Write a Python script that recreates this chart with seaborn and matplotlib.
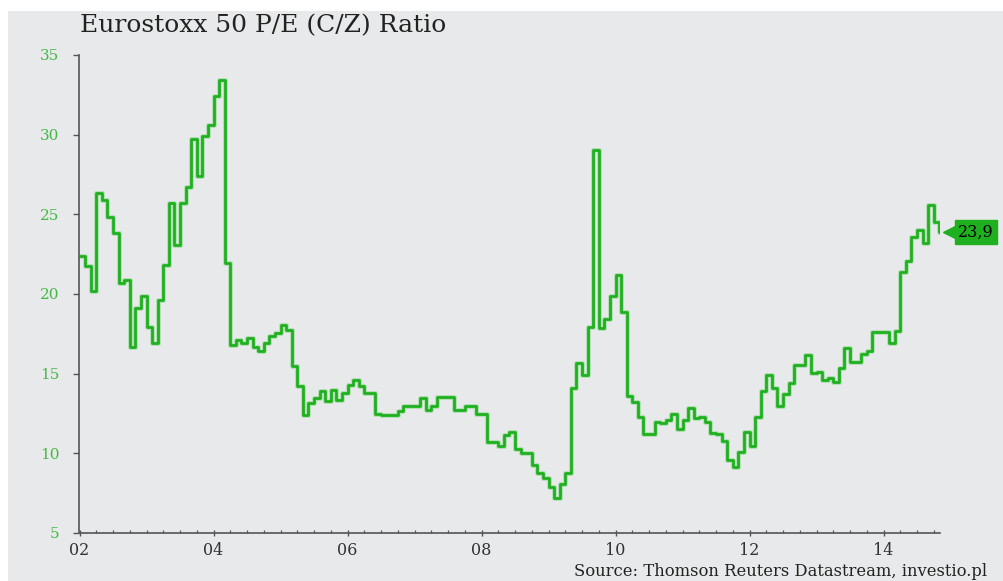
import numpy as np
import pandas as pd
import matplotlib
matplotlib.use("Agg")
import matplotlib.pyplot as plt
import matplotlib.patheffects as pe
import matplotlib.transforms as mtransforms
from matplotlib.ticker import MultipleLocator, FuncFormatter
import seaborn as sns

# ---- data: monthly Eurostoxx 50 P/E ratio ----
start_year = 2002
pe_2002 = [22.4, 21.75, 20.2, 26.35, 25.9, 24.85, 23.8, 20.7, 20.9, 16.7, 19.1, 19.9]
pe_2003 = [17.95, 16.9, 19.6, 21.8, 25.7, 23.1, 25.7, 26.7, 29.7, 27.4, 29.9, 30.6]
pe_2004 = [32.4, 33.4, 21.95, 16.8, 17.1, 16.9, 17.25, 16.7, 16.45, 16.9, 17.35, 17.55]
pe_2005 = [18.05, 17.75, 15.5, 14.2, 12.4, 13.15, 13.45, 13.9, 13.3, 13.95, 13.35, 13.8]
pe_2006 = [14.3, 14.6, 14.2, 13.8, 13.8, 12.5, 12.4, 12.4, 12.4, 12.65, 12.95, 12.95]
pe_2007 = [12.95, 13.45, 12.7, 13.0, 13.55, 13.55, 13.55, 12.7, 12.7, 13.0, 13.0, 12.5]
pe_2008 = [12.5, 10.7, 10.7, 10.45, 11.15, 11.35, 10.25, 10.0, 10.0, 9.25, 8.75, 8.45]
pe_2009 = [7.9, 7.2, 8.1, 8.75, 14.1, 15.7, 14.9, 17.9, 29.05, 17.85, 18.4, 19.9]
pe_2010 = [21.2, 18.85, 13.6, 13.2, 12.3, 11.2, 11.2, 11.95, 11.9, 12.1, 12.45, 11.5]
pe_2011 = [12.1, 12.85, 12.2, 12.3, 11.95, 11.25, 11.2, 10.8, 9.6, 9.15, 10.1, 11.35]
pe_2012 = [10.45, 12.3, 13.9, 14.9, 14.1, 12.95, 13.7, 14.4, 15.55, 15.55, 16.2, 15.05]
pe_2013 = [15.1, 14.6, 14.75, 14.45, 15.35, 16.6, 15.75, 15.75, 16.25, 16.45, 17.6, 17.6]
pe_2014 = [17.6, 16.95, 17.65, 21.4, 22.1, 23.55, 24.0, 23.2, 25.6, 24.5, 23.9]

y_ticks = [5, 10, 15, 20, 25, 30, 35]
x_major_years = [2002, 2004, 2006, 2008, 2010, 2012, 2014]
title = "Eurostoxx 50 P/E (C/Z) Ratio"
source = "Source: Thomson Reuters Datastream, investio.pl"

values = (pe_2002 + pe_2003 + pe_2004 + pe_2005 + pe_2006 + pe_2007 + pe_2008 +
          pe_2009 + pe_2010 + pe_2011 + pe_2012 + pe_2013 + pe_2014)
df = pd.DataFrame({"t": start_year + np.arange(len(values)) / 12.0, "pe": values})

# ---- style ----
BG = "#e8e9ea"
GREEN = "#1fb01f"
TICKGREEN = "#44b944"
AXIS = "#555555"

sns.set_theme(style="ticks")
plt.rcParams["font.family"] = ["DejaVu Serif"]

W, H, DPI = 1004, 581, 100
fig = plt.figure(figsize=(W / DPI, H / DPI), dpi=DPI, facecolor="white")
fig.patches.append(plt.Rectangle((8 / W, 0), 1 - 8 / W, 1 - 11 / H,
                                 transform=fig.transFigure, facecolor=BG,
                                 edgecolor="none", zorder=-10))

left, right = 79.5 / W, 940 / W
bottom, top = (H - 533) / H, (H - 55) / H
ax = fig.add_axes([left, bottom, right - left, top - bottom])
ax.set_facecolor(BG)

sns.lineplot(data=df, x="t", y="pe", ax=ax, drawstyle="steps-post",
             color=GREEN, linewidth=2.0, estimator=None,
             path_effects=[pe.Stroke(linewidth=3.6, foreground="#8ad68a", alpha=0.55),
                           pe.Normal()])

ax.set_xlim(start_year, start_year + 860.5 / 67.0)
ax.set_ylim(5, 35)
ax.set_xlabel("")
ax.set_ylabel("")

for s in ["top", "right"]:
    ax.spines[s].set_visible(False)
for s in ["left", "bottom"]:
    ax.spines[s].set_color(AXIS)
    ax.spines[s].set_linewidth(1.2)

ax.set_yticks(y_ticks)
ax.yaxis.set_major_formatter(FuncFormatter(lambda v, p: f"{int(v)}"))
ax.tick_params(axis="y", direction="out", length=4.5, width=1.0, color=AXIS,
               labelcolor=TICKGREEN, labelsize=11, pad=10)

ax.set_xticks(x_major_years)
ax.xaxis.set_minor_locator(MultipleLocator(0.25))
ax.xaxis.set_major_formatter(FuncFormatter(lambda v, p: f"{int(round(v)) % 100:02d}"))
ax.tick_params(axis="x", which="major", direction="inout", length=5, width=1.0,
               color=AXIS, labelcolor="#333333", labelsize=11.5, pad=4)
ax.tick_params(axis="x", which="minor", direction="in", length=2.5, width=0.9,
               color=AXIS)

# ---- title and source ----
fig.text(80 / W, 1 - 26 / H, title, fontsize=18, color="#222222",
         ha="left", va="center")
fig.text(574 / W, 1 - 571 / H, source, fontsize=11.8, color="#222222",
         ha="left", va="center")

# ---- last value tag ----
x_last, y_last = df["t"].iloc[-1], df["pe"].iloc[-1]
label = f"{y_last:.1f}".replace(".", ",")
off = mtransforms.ScaledTranslation(14 / DPI, 0, fig.dpi_scale_trans)
ax.plot([x_last], [y_last], marker="<", markersize=14, color=GREEN,
        markeredgecolor=GREEN, transform=ax.transData + off, clip_on=False)
ax.annotate(label, xy=(x_last, y_last), xytext=(19, 0), textcoords="offset pixels",
            ha="left", va="center", fontsize=11.5, color="black",
            bbox=dict(boxstyle="square,pad=0.2", facecolor=GREEN, edgecolor=GREEN),
            annotation_clip=False)

fig.savefig("out.png", dpi=DPI, facecolor="white")
